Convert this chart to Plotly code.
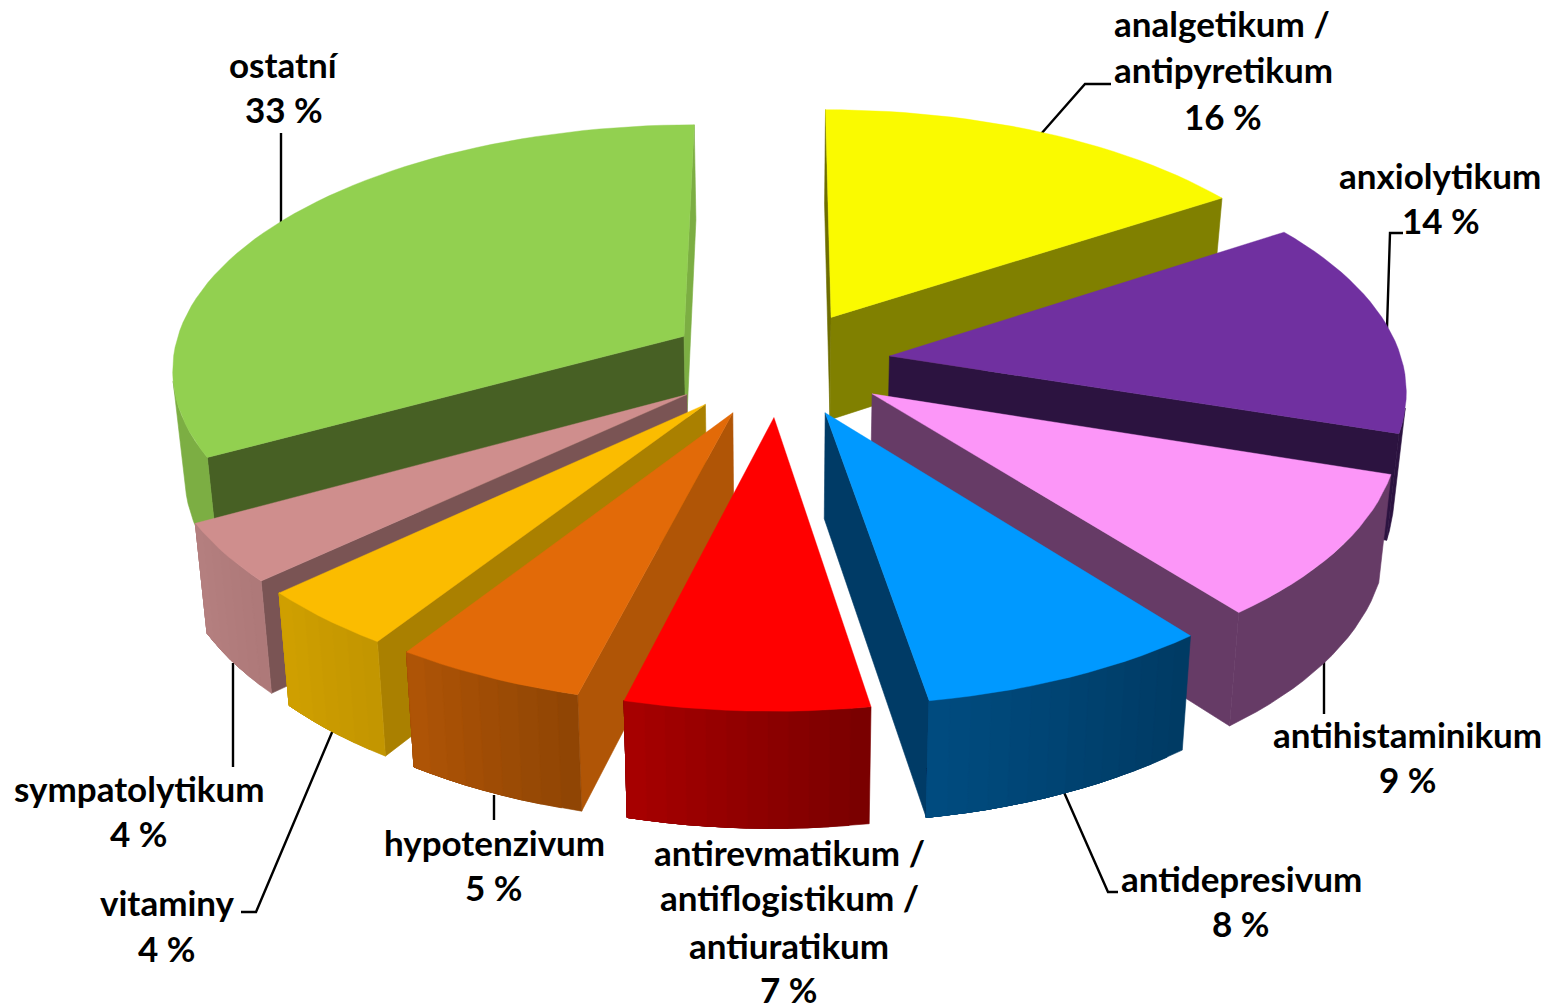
import math
import plotly.graph_objects as go

# Share of each drug group, in percent, clockwise from twelve o'clock
name_rows = [["analgetikum /", "antipyretikum"], ["anxiolytikum"], ["antihistaminikum"],
             ["antidepresivum"], ["antirevmatikum /", "antiflogistikum /", "antiuratikum"],
             ["hypotenzivum"], ["vitaminy"], ["sympatolytikum"], ["ostatní"]]
values = [15.8, 14.2, 9.4, 8.0, 6.6, 5.2, 3.9, 3.9, 33.0]

# Per-slice colours: top face, radial walls, rim at slice start and end
top_colors = ["#FAFA00", "#7030A0", "#FC96F8", "#0099FF", "#FF0000",
              "#E26A08", "#FBBC00", "#CF8E8D", "#92D050"]
edge_start = ["#6E6E00", "#2C1340", "#663B66", "#003B66", "#A00000",
              "#B05506", "#AA8000", "#7A5454", "#476024"]
edge_end = ["#808000", "#2C1340", "#663B66", "#003B66", "#A00000",
            "#B05506", "#AA8000", "#7A5454", "#7CAE43"]
rim_start = ["#808000", "#2C1340", "#663B66", "#003A63", "#780000",
             "#8E4404", "#C29500", "#AD7878", "#7CAE43"]
rim_end = ["#808000", "#2C1340", "#663B66", "#004C80", "#A80000",
           "#B05506", "#D0A000", "#B58080", "#7CAE43"]

# Projection of the tilted pie
CX, CY = 779.0, 363.0
SCALE_X, SCALE_Y = 513.0, 243.5
PERSPECTIVE = 0.122
THICK_BASE, THICK_PERSP = 29.0, 75.0
BOTTOM_SHRINK = 0.98
EXPLODE = 0.218
PAINT_ORDER = [8, 0, 1, 2, 7, 6, 3, 5, 4]


def project(x, y, bottom=False):
    s = 1.0 / (1.0 - PERSPECTIVE * y)
    u = CX + SCALE_X * x * s
    v = CY + SCALE_Y * y * s
    if bottom:
        u = CX + (u - CX) * BOTTOM_SHRINK
        v += THICK_BASE + THICK_PERSP * s
    return u, v


def hex_mix(a, b, t):
    ca = [int(a[i:i + 2], 16) for i in (1, 3, 5)]
    cb = [int(b[i:i + 2], 16) for i in (1, 3, 5)]
    return "#%02X%02X%02X" % tuple(round(p + (q - p) * t) for p, q in zip(ca, cb))


def polygon(points, color, name, width=0.6):
    xs, ys = zip(*points)
    return go.Scatter(x=list(xs) + [xs[0]], y=list(ys) + [ys[0]], mode="lines", fill="toself",
                      fillcolor=color, line=dict(color=color, width=width),
                      hoverinfo="text", text=name, showlegend=False)


def faces_viewer(p, q):
    quad = [project(*p), project(*q), project(*q, bottom=True), project(*p, bottom=True)]
    return sum(quad[i][0] * quad[(i + 1) % 4][1] - quad[(i + 1) % 4][0] * quad[i][1] for i in range(4)) < 0


def wall_polygon(path, color, name):
    outline = [project(*p) for p in path] + [project(*p, bottom=True) for p in reversed(path)]
    return polygon(outline, color, name)


def slice_traces(i, a0, a1):
    name = " ".join(name_rows[i])
    mid = math.radians((a0 + a1) / 2)
    ox, oy = EXPLODE * math.sin(mid), -EXPLODE * math.cos(mid)
    steps = max(2, round((a1 - a0) / 2))
    arc = []
    for k in range(steps + 1):
        a = math.radians(a0 + (a1 - a0) * k / steps)
        arc.append((ox + math.sin(a), oy - math.cos(a)))
    apex = (ox, oy)
    traces = []
    if faces_viewer(apex, arc[0]):
        traces.append(wall_polygon([apex, arc[0]], edge_start[i], name))
    if faces_viewer(arc[-1], apex):
        traces.append(wall_polygon([arc[-1], apex], edge_end[i], name))
    # Each rim band runs on to the end of the arc and the next one paints over it,
    # so no seam shows between neighbouring shades
    visible = [k for k in range(steps) if faces_viewer(arc[k], arc[k + 1])]
    if visible:
        last = visible[-1] + 1
        starts = visible[:1] if rim_start[i] == rim_end[i] else visible
        for first in starts:
            shade = hex_mix(rim_start[i], rim_end[i], (first + 0.5) / steps)
            traces.append(wall_polygon(arc[first:last + 1], shade, name))
    traces.append(polygon([project(*apex)] + [project(*p) for p in arc], top_colors[i], name, 0.4))
    return traces


# Leader lines from the labels to their slices
leader_x = [[1041, 1085, 1111], [1403, 1390, 1387], [1324, 1324], [1063, 1108, 1118],
            [494, 494], [333, 256, 241], [233, 233], [281, 281]]
leader_y = [[134, 84, 84], [233, 233, 328], [662, 714], [790, 892, 892],
            [795, 820], [730, 912, 912], [663, 767], [133, 223]]

# Centre of each label row; the last row of every label is its percentage
label_x = [[1222, 1223, 1223], [1440, 1441], [1407, 1408], [1241, 1241],
           [789, 789, 789, 789], [494, 494], [167, 167], [139, 139], [284, 284]]
label_y = [[23, 69, 116], [175, 220], [734, 779], [878, 923],
           [852, 897, 945, 989], [842, 887], [902, 948], [788, 833], [64, 109]]

fig = go.Figure()
for lx, ly in zip(leader_x, leader_y):
    fig.add_trace(go.Scatter(x=lx, y=ly, mode="lines", line=dict(color="black", width=2.4),
                             hoverinfo="skip", showlegend=False))

total = sum(values)
bounds = [0.0]
for v in values:
    bounds.append(bounds[-1] + v / total * 360.0)
for i in PAINT_ORDER:
    fig.add_traces(slice_traces(i, bounds[i], bounds[i + 1]))

for rows, v, xs, ys in zip(name_rows, values, label_x, label_y):
    for t, x, y in zip(rows + [f"{round(v)} %"], xs, ys):
        fig.add_annotation(x=x, y=y, xref="x", yref="y", text=f"<b>{t}</b>", showarrow=False,
                           xanchor="center", yanchor="middle",
                           font=dict(family="Lato", size=35, color="black"))

fig.update_xaxes(range=[0, 1557], visible=False, fixedrange=True)
fig.update_yaxes(range=[1005, 0], visible=False, fixedrange=True)
fig.update_layout(width=1557, height=1005, margin=dict(l=0, r=0, t=0, b=0),
                  paper_bgcolor="white", plot_bgcolor="white", showlegend=False)
fig.write_html("out.html")
